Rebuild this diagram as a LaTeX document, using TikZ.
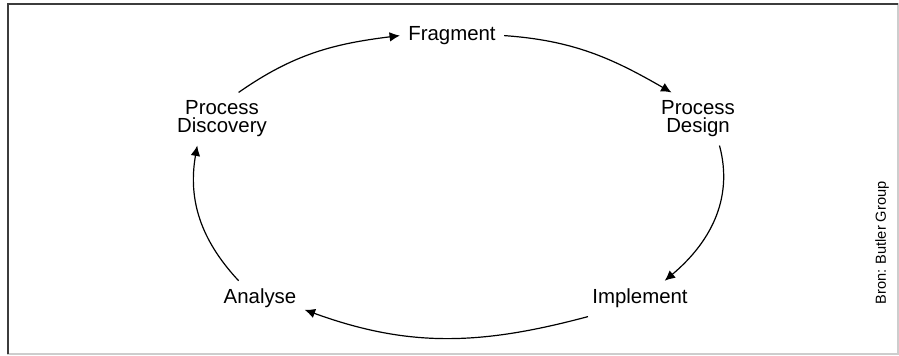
\documentclass[tikz,border=0pt]{standalone}
\usepackage{fontspec}
\setmainfont{Liberation Sans}
\usetikzlibrary{arrows.meta}
\definecolor{framedark}{RGB}{60,60,60}
\definecolor{framelight}{RGB}{205,205,205}

\begin{document}
\begin{tikzpicture}[
  x=0.5pt, y=-0.5pt, >={Latex[length=5.2pt,width=4.8pt]},
  stage/.style={align=center, inner sep=4pt, font=\fontsize{10.2}{9}\selectfont},
  flow/.style={->, line width=0.6pt}]
\useasboundingbox (0,0) rectangle (899,356);
% frame
\draw[framelight, line width=0.8pt] (8,4) rectangle (898,354);
\draw[framedark, line width=0.8pt] (8,354) -- (8,4) -- (898,4);
% stages
\node[stage](frag) at (452,35.6){Fragment};
\node[stage](disc) at (222,119){Process\\Discovery};
\node[stage](des) at (698,119){Process\\Design};
\node[stage](impl) at (640,298.7){Implement};
\node[stage](ana) at (260,298.7){Analyse};
\node[rotate=90, font=\fontsize{7.3}{8}\selectfont](src) at (882,243){Bron: Butler Group};
% cycle
\draw[flow](disc.58) to[out=35,in=187] (frag.west);
\draw[flow](frag.east) to[out=-4,in=150] (des.135);
\draw[flow](des.-51) to[out=-75,in=40] (impl.36);
\draw[flow](impl.199) to[out=195,in=-20] (ana.-14);
\draw[flow](ana.140) to[out=133,in=-100] (disc.227);
\end{tikzpicture}
\end{document}
